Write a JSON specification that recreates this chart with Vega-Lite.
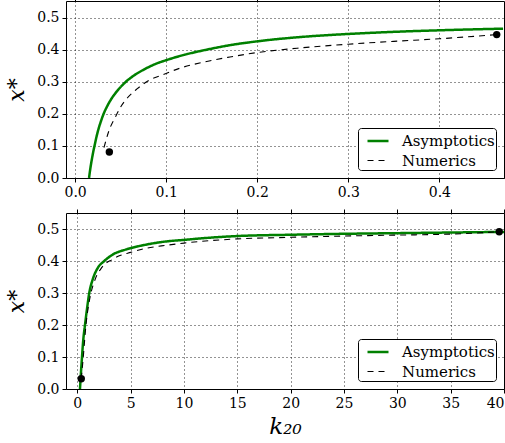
{
  "$schema": "https://vega.github.io/schema/vega-lite/v6.json",
  "padding": {"left": 5, "top": -4, "right": 2, "bottom": 2},
  "background": "white",
  "bounds": "flush",
  "spacing": 35,
  "config": {
    "font": "DejaVu Serif, Liberation Serif, serif",
    "view": {"stroke": "black", "strokeWidth": 1},
    "axis": {
      "domain": false,
      "grid": true,
      "gridColor": "black",
      "gridDash": [1, 3],
      "gridWidth": 1,
      "gridOpacity": 0.85,
      "tickColor": "black",
      "tickSize": 4,
      "labelFont": "DejaVu Serif, Liberation Serif, serif",
      "labelFontSize": 14,
      "labelColor": "black",
      "labelPadding": 3,
      "titleFont": "DejaVu Serif, Liberation Serif, serif",
      "titleColor": "black",
      "titleFontWeight": "normal",
      "titleFontStyle": "italic"
    },
    "legend": {
      "orient": "bottom-right",
      "offset": 8,
      "title": null,
      "labelFont": "DejaVu Serif, Liberation Serif, serif",
      "labelFontSize": 15,
      "labelColor": "black",
      "labelOffset": 12,
      "fillColor": "white",
      "strokeColor": "black",
      "cornerRadius": 3,
      "padding": 1,
      "rowPadding": -1,
      "symbolType": "stroke",
      "symbolSize": 441,
      "symbolOffset": 7
    }
  },
  "datasets": {
    "top": [
      {"k": 0.0153, "xs": 0.0, "series": "Asymptotics"},
      {"k": 0.0168, "xs": 0.031, "series": "Asymptotics"},
      {"k": 0.0183, "xs": 0.057, "series": "Asymptotics"},
      {"k": 0.0198, "xs": 0.08, "series": "Asymptotics"},
      {"k": 0.0212, "xs": 0.099, "series": "Asymptotics"},
      {"k": 0.0236, "xs": 0.13, "series": "Asymptotics"},
      {"k": 0.0262, "xs": 0.158, "series": "Asymptotics"},
      {"k": 0.0287, "xs": 0.18, "series": "Asymptotics"},
      {"k": 0.0311, "xs": 0.199, "series": "Asymptotics"},
      {"k": 0.035, "xs": 0.223, "series": "Asymptotics"},
      {"k": 0.04, "xs": 0.248, "series": "Asymptotics"},
      {"k": 0.0465, "xs": 0.273, "series": "Asymptotics"},
      {"k": 0.0555, "xs": 0.3, "series": "Asymptotics"},
      {"k": 0.065, "xs": 0.321, "series": "Asymptotics"},
      {"k": 0.077, "xs": 0.341, "series": "Asymptotics"},
      {"k": 0.088, "xs": 0.356, "series": "Asymptotics"},
      {"k": 0.1, "xs": 0.368, "series": "Asymptotics"},
      {"k": 0.12, "xs": 0.385, "series": "Asymptotics"},
      {"k": 0.143, "xs": 0.4, "series": "Asymptotics"},
      {"k": 0.17, "xs": 0.415, "series": "Asymptotics"},
      {"k": 0.2, "xs": 0.427, "series": "Asymptotics"},
      {"k": 0.25, "xs": 0.441, "series": "Asymptotics"},
      {"k": 0.3, "xs": 0.45, "series": "Asymptotics"},
      {"k": 0.35, "xs": 0.4566, "series": "Asymptotics"},
      {"k": 0.4, "xs": 0.4615, "series": "Asymptotics"},
      {"k": 0.47, "xs": 0.4666, "series": "Asymptotics"},
      {"k": 0.0317, "xs": 0.095, "series": "Numerics"},
      {"k": 0.0372, "xs": 0.148, "series": "Numerics"},
      {"k": 0.0445, "xs": 0.192, "series": "Numerics"},
      {"k": 0.05, "xs": 0.222, "series": "Numerics"},
      {"k": 0.0573, "xs": 0.25, "series": "Numerics"},
      {"k": 0.0683, "xs": 0.279, "series": "Numerics"},
      {"k": 0.081, "xs": 0.305, "series": "Numerics"},
      {"k": 0.0956, "xs": 0.322, "series": "Numerics"},
      {"k": 0.115, "xs": 0.343, "series": "Numerics"},
      {"k": 0.141, "xs": 0.362, "series": "Numerics"},
      {"k": 0.17, "xs": 0.378, "series": "Numerics"},
      {"k": 0.2, "xs": 0.392, "series": "Numerics"},
      {"k": 0.25, "xs": 0.407, "series": "Numerics"},
      {"k": 0.3, "xs": 0.418, "series": "Numerics"},
      {"k": 0.35, "xs": 0.427, "series": "Numerics"},
      {"k": 0.4, "xs": 0.435, "series": "Numerics"},
      {"k": 0.463, "xs": 0.448, "series": "Numerics"}
    ],
    "topDots": [
      {"k": 0.0376, "xs": 0.081},
      {"k": 0.463, "xs": 0.448}
    ],
    "bottom": [
      {"k": 0.25, "xs": 0.0, "series": "Asymptotics"},
      {"k": 0.34, "xs": 0.05, "series": "Asymptotics"},
      {"k": 0.44, "xs": 0.1, "series": "Asymptotics"},
      {"k": 0.56, "xs": 0.154, "series": "Asymptotics"},
      {"k": 0.72, "xs": 0.2, "series": "Asymptotics"},
      {"k": 0.9, "xs": 0.248, "series": "Asymptotics"},
      {"k": 1.12, "xs": 0.3, "series": "Asymptotics"},
      {"k": 1.44, "xs": 0.342, "series": "Asymptotics"},
      {"k": 1.91, "xs": 0.378, "series": "Asymptotics"},
      {"k": 2.53, "xs": 0.4, "series": "Asymptotics"},
      {"k": 3.32, "xs": 0.42, "series": "Asymptotics"},
      {"k": 4.56, "xs": 0.436, "series": "Asymptotics"},
      {"k": 6.13, "xs": 0.449, "series": "Asymptotics"},
      {"k": 8.3, "xs": 0.461, "series": "Asymptotics"},
      {"k": 10, "xs": 0.466, "series": "Asymptotics"},
      {"k": 12.5, "xs": 0.473, "series": "Asymptotics"},
      {"k": 15, "xs": 0.478, "series": "Asymptotics"},
      {"k": 20, "xs": 0.482, "series": "Asymptotics"},
      {"k": 25, "xs": 0.485, "series": "Asymptotics"},
      {"k": 30, "xs": 0.487, "series": "Asymptotics"},
      {"k": 35, "xs": 0.489, "series": "Asymptotics"},
      {"k": 40, "xs": 0.491, "series": "Asymptotics"},
      {"k": 0.37, "xs": 0.032, "series": "Numerics"},
      {"k": 0.45, "xs": 0.06, "series": "Numerics"},
      {"k": 0.56, "xs": 0.1, "series": "Numerics"},
      {"k": 0.68, "xs": 0.15, "series": "Numerics"},
      {"k": 0.81, "xs": 0.2, "series": "Numerics"},
      {"k": 1.0, "xs": 0.25, "series": "Numerics"},
      {"k": 1.28, "xs": 0.3, "series": "Numerics"},
      {"k": 1.7, "xs": 0.345, "series": "Numerics"},
      {"k": 2.3, "xs": 0.38, "series": "Numerics"},
      {"k": 3.3, "xs": 0.405, "series": "Numerics"},
      {"k": 4, "xs": 0.417, "series": "Numerics"},
      {"k": 5, "xs": 0.427, "series": "Numerics"},
      {"k": 6.5, "xs": 0.44, "series": "Numerics"},
      {"k": 8.3, "xs": 0.449, "series": "Numerics"},
      {"k": 10, "xs": 0.456, "series": "Numerics"},
      {"k": 15, "xs": 0.469, "series": "Numerics"},
      {"k": 20, "xs": 0.474, "series": "Numerics"},
      {"k": 25, "xs": 0.478, "series": "Numerics"},
      {"k": 30, "xs": 0.481, "series": "Numerics"},
      {"k": 35, "xs": 0.484, "series": "Numerics"},
      {"k": 39.55, "xs": 0.4916, "series": "Numerics"}
    ],
    "bottomDots": [
      {"k": 0.37, "xs": 0.032},
      {"k": 39.55, "xs": 0.4916}
    ]
  },
  "vconcat": [
    {
      "width": 438,
      "height": 177,
      "layer": [
        {
          "data": {"name": "top"},
          "mark": {"type": "line", "clip": true, "interpolate": "monotone"},
          "encoding": {
            "x": {"field": "k", "type": "quantitative", "scale": {"domain": [-0.01, 0.471], "nice": false, "zero": false},
                  "axis": {"title": null, "values": [0, 0.1, 0.2, 0.3, 0.4], "format": ".1f"}},
            "y": {"field": "xs", "type": "quantitative", "scale": {"domain": [0, 0.553], "nice": false},
                  "axis": {"title": "x*", "titleFontSize": 22, "values": [0, 0.1, 0.2, 0.3, 0.4, 0.5], "format": ".1f", "titlePadding": 8}},
            "color": {"field": "series", "type": "nominal", "scale": {"domain": ["Asymptotics", "Numerics"], "range": ["#008000", "#000000"]}},
            "strokeDash": {"field": "series", "type": "nominal", "scale": {"domain": ["Asymptotics", "Numerics"], "range": [[1, 0], [6, 5]]}},
            "strokeWidth": {"field": "series", "type": "nominal", "scale": {"type": "ordinal", "domain": ["Asymptotics", "Numerics"], "range": [2.5, 1.1]}}
          }
        },
        {
          "data": {"name": "topDots"},
          "mark": {"type": "point", "filled": true, "color": "black", "opacity": 1, "size": 55},
          "encoding": {
            "x": {"field": "k", "type": "quantitative", "scale": {"domain": [-0.01, 0.471], "nice": false, "zero": false},
                  "axis": {"orient": "top", "title": null, "labels": false, "grid": false, "values": [0, 0.1, 0.2, 0.3, 0.4]}},
            "y": {"field": "xs", "type": "quantitative", "scale": {"domain": [0, 0.553], "nice": false},
                  "axis": {"orient": "right", "title": null, "labels": false, "grid": false, "values": [0, 0.1, 0.2, 0.3, 0.4, 0.5]}}
          }
        }
      ],
      "resolve": {"axis": {"x": "independent", "y": "independent"}}
    },
    {
      "width": 438,
      "height": 176,
      "layer": [
        {
          "data": {"name": "bottom"},
          "mark": {"type": "line", "clip": true, "interpolate": "monotone"},
          "encoding": {
            "x": {"field": "k", "type": "quantitative", "scale": {"domain": [-1.06, 40.0], "nice": false, "zero": false},
                  "axis": {"title": "k₂₀", "titleFontSize": 23, "titlePadding": 5, "values": [0, 5, 10, 15, 20, 25, 30, 35, 40], "format": "d"}},
            "y": {"field": "xs", "type": "quantitative", "scale": {"domain": [0, 0.55], "nice": false},
                  "axis": {"title": "x*", "titleFontSize": 22, "values": [0, 0.1, 0.2, 0.3, 0.4, 0.5], "format": ".1f", "titlePadding": 8}},
            "color": {"field": "series", "type": "nominal", "scale": {"domain": ["Asymptotics", "Numerics"], "range": ["#008000", "#000000"]}},
            "strokeDash": {"field": "series", "type": "nominal", "scale": {"domain": ["Asymptotics", "Numerics"], "range": [[1, 0], [6, 5]]}},
            "strokeWidth": {"field": "series", "type": "nominal", "scale": {"type": "ordinal", "domain": ["Asymptotics", "Numerics"], "range": [2.5, 1.1]}}
          }
        },
        {
          "data": {"name": "bottomDots"},
          "mark": {"type": "point", "filled": true, "color": "black", "opacity": 1, "size": 55},
          "encoding": {
            "x": {"field": "k", "type": "quantitative", "scale": {"domain": [-1.06, 40.0], "nice": false, "zero": false},
                  "axis": {"orient": "top", "title": null, "labels": false, "grid": false, "values": [0, 5, 10, 15, 20, 25, 30, 35, 40]}},
            "y": {"field": "xs", "type": "quantitative", "scale": {"domain": [0, 0.55], "nice": false},
                  "axis": {"orient": "right", "title": null, "labels": false, "grid": false, "values": [0, 0.1, 0.2, 0.3, 0.4, 0.5]}}
          }
        }
      ],
      "resolve": {"axis": {"x": "independent", "y": "independent"}}
    }
  ],
  "resolve": {
    "scale": {"x": "independent", "y": "independent", "color": "independent", "strokeDash": "independent", "strokeWidth": "independent"},
    "legend": {"color": "independent", "strokeDash": "independent", "strokeWidth": "independent"}
  }
}
